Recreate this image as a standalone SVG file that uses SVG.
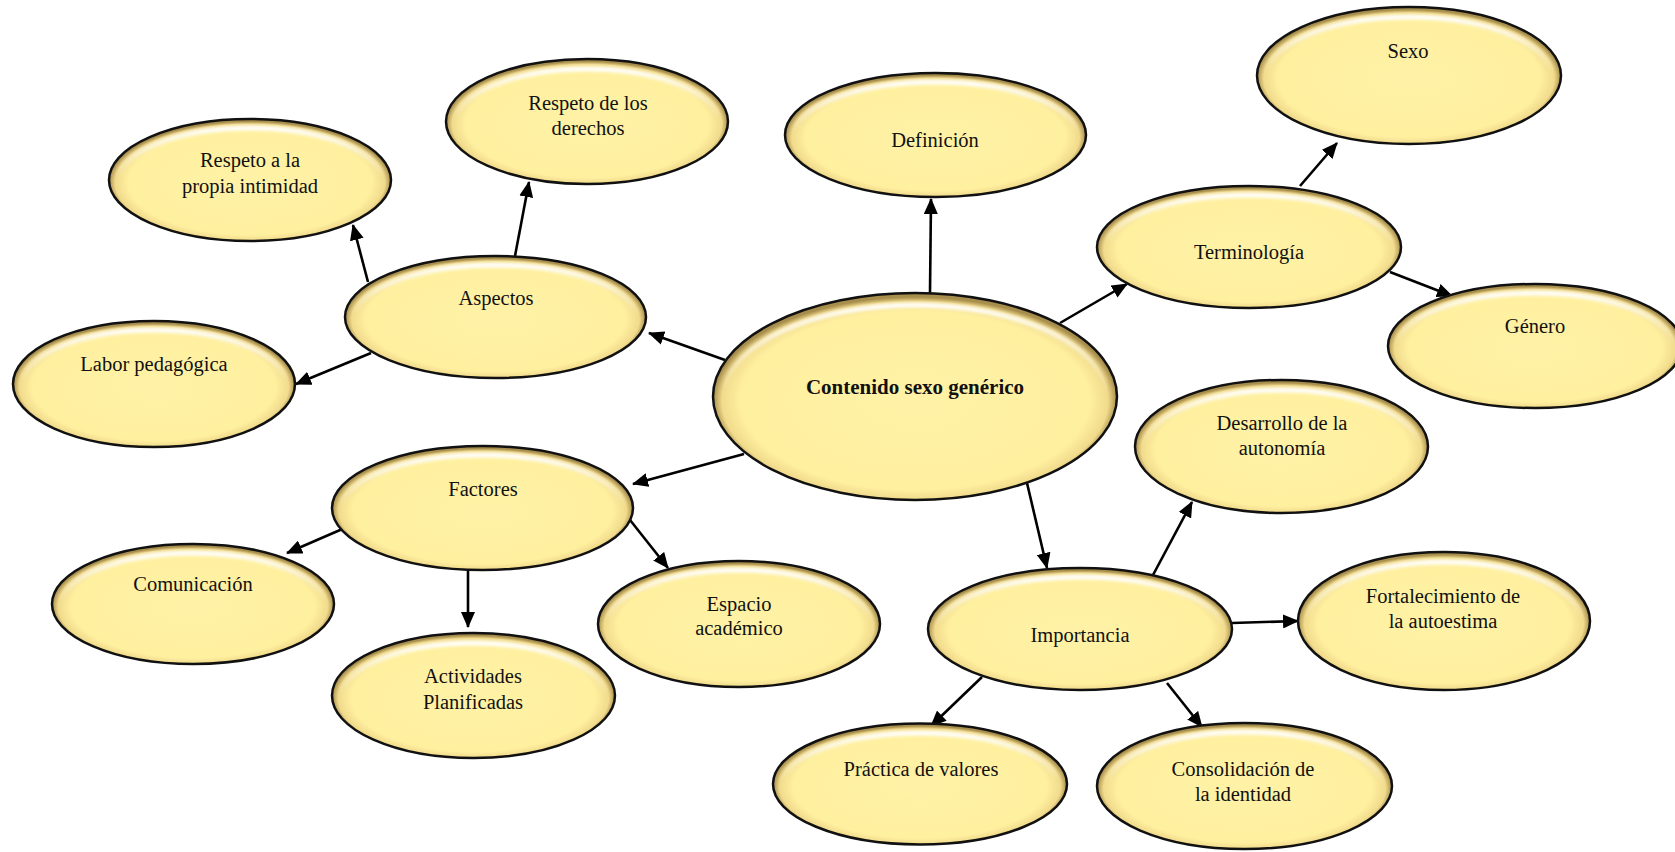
<svg xmlns="http://www.w3.org/2000/svg" width="1675" height="852" viewBox="0 0 1675 852">
<defs>
<radialGradient id="fill" cx="0.5" cy="0.52" r="0.5">
<stop offset="0" stop-color="#FFF2A6"/>
<stop offset="0.86" stop-color="#FFF0A0"/>
<stop offset="0.955" stop-color="#F1DB8C"/>
<stop offset="1" stop-color="#A88E4C"/>
</radialGradient>
<linearGradient id="hl" x1="0" y1="0" x2="0" y2="1">
<stop offset="0" stop-color="#FFFFFF" stop-opacity="0.95"/>
<stop offset="0.25" stop-color="#FFFFFF" stop-opacity="0.45"/>
<stop offset="0.45" stop-color="#FFFFFF" stop-opacity="0"/>
</linearGradient>
<filter id="blur" x="-10%" y="-10%" width="120%" height="120%"><feGaussianBlur stdDeviation="1.4"/></filter>
<marker id="arr" markerUnits="userSpaceOnUse" markerWidth="16" markerHeight="14" refX="15" refY="7" orient="auto">
<path d="M0,0 L16,7 L0,14 Z" fill="#000"/>
</marker>
<style>
.n{fill:url(#fill);stroke:#111;stroke-width:2.5}
.h{fill:none;stroke:url(#hl);stroke-width:5;filter:url(#blur)}
.t{font-family:"Liberation Serif","Times New Roman",serif;font-size:20.5px;fill:#111;text-anchor:middle}
.b{font-weight:bold;font-size:21px}
.c line{stroke:#000;stroke-width:2.6;marker-end:url(#arr)}
</style>
</defs>
<rect width="1675" height="852" fill="#fff"/>
<g id="connectors" class="c">
<line x1="930" y1="293" x2="931" y2="199"/>
<line x1="1060" y1="323" x2="1127" y2="284"/>
<line x1="1300" y1="186" x2="1337" y2="143"/>
<line x1="1390" y1="272" x2="1452" y2="296"/>
<line x1="725" y1="360" x2="649" y2="333"/>
<line x1="368" y1="282" x2="353" y2="225"/>
<line x1="515" y1="256" x2="529" y2="182"/>
<line x1="371" y1="353" x2="296" y2="384"/>
<line x1="744" y1="454" x2="633" y2="484"/>
<line x1="347" y1="527" x2="287" y2="553"/>
<line x1="468" y1="570" x2="468" y2="627"/>
<line x1="630" y1="520" x2="668" y2="568"/>
<line x1="1027" y1="483" x2="1047" y2="568"/>
<line x1="1153" y1="575" x2="1192" y2="502"/>
<line x1="1232" y1="623" x2="1298" y2="621"/>
<line x1="982" y1="677" x2="931" y2="726"/>
<line x1="1167" y1="683" x2="1202" y2="727"/>
</g>
<g id="n-contenido"><ellipse class="n" cx="915" cy="396.5" rx="202" ry="103.5"/><ellipse class="h" cx="915" cy="400" rx="193" ry="95"/><text class="t b" x="915" y="394">Contenido sexo genérico</text></g>
<g id="n-definicion"><ellipse class="n" cx="935.5" cy="135" rx="150.5" ry="62"/><ellipse class="h" cx="935.5" cy="138" rx="143" ry="56"/><text class="t" x="935" y="147">Definición</text></g>
<g id="n-sexo"><ellipse class="n" cx="1409" cy="75.5" rx="152" ry="68.5"/><ellipse class="h" cx="1409" cy="79" rx="144" ry="62"/><text class="t" x="1408" y="58">Sexo</text></g>
<g id="n-terminologia"><ellipse class="n" cx="1249" cy="247" rx="152" ry="61"/><ellipse class="h" cx="1249" cy="250" rx="144" ry="55"/><text class="t" x="1249" y="259">Terminología</text></g>
<g id="n-genero"><ellipse class="n" cx="1535" cy="346" rx="147" ry="62"/><ellipse class="h" cx="1535" cy="349" rx="139" ry="56"/><text class="t" x="1535" y="333">Género</text></g>
<g id="n-derechos"><ellipse class="n" cx="587" cy="121.5" rx="141" ry="62.5"/><ellipse class="h" cx="587" cy="125" rx="133" ry="56"/><text class="t" x="588" y="110">Respeto de los</text><text class="t" x="588" y="135">derechos</text></g>
<g id="n-intimidad"><ellipse class="n" cx="250" cy="180" rx="141" ry="61"/><ellipse class="h" cx="250" cy="183" rx="133" ry="55"/><text class="t" x="250" y="167">Respeto a la</text><text class="t" x="250" y="193">propia intimidad</text></g>
<g id="n-aspectos"><ellipse class="n" cx="495.5" cy="317" rx="150.5" ry="61"/><ellipse class="h" cx="495.5" cy="320" rx="142" ry="55"/><text class="t" x="496" y="305">Aspectos</text></g>
<g id="n-labor"><ellipse class="n" cx="154" cy="384" rx="141" ry="63"/><ellipse class="h" cx="154" cy="387" rx="133" ry="57"/><text class="t" x="154" y="371">Labor pedagógica</text></g>
<g id="n-factores"><ellipse class="n" cx="482.5" cy="508" rx="150.5" ry="62"/><ellipse class="h" cx="482.5" cy="511" rx="142" ry="56"/><text class="t" x="483" y="496">Factores</text></g>
<g id="n-comunicacion"><ellipse class="n" cx="193" cy="604" rx="141" ry="60"/><ellipse class="h" cx="193" cy="607" rx="133" ry="54"/><text class="t" x="193" y="591">Comunicación</text></g>
<g id="n-actividades"><ellipse class="n" cx="473.5" cy="695.5" rx="141.5" ry="62.5"/><ellipse class="h" cx="473.5" cy="699" rx="133" ry="56"/><text class="t" x="473" y="683">Actividades</text><text class="t" x="473" y="709">Planificadas</text></g>
<g id="n-espacio"><ellipse class="n" cx="739" cy="624" rx="141" ry="63"/><ellipse class="h" cx="739" cy="627" rx="133" ry="57"/><text class="t" x="739" y="611">Espacio</text><text class="t" x="739" y="635">académico</text></g>
<g id="n-importancia"><ellipse class="n" cx="1080" cy="629" rx="152" ry="61"/><ellipse class="h" cx="1080" cy="632" rx="144" ry="55"/><text class="t" x="1080" y="642">Importancia</text></g>
<g id="n-desarrollo"><ellipse class="n" cx="1281.5" cy="446.5" rx="146.5" ry="66.5"/><ellipse class="h" cx="1281.5" cy="450" rx="138" ry="60"/><text class="t" x="1282" y="430">Desarrollo de la</text><text class="t" x="1282" y="455">autonomía</text></g>
<g id="n-fortalecimiento"><ellipse class="n" cx="1444" cy="621" rx="146" ry="69"/><ellipse class="h" cx="1444" cy="624" rx="138" ry="62"/><text class="t" x="1443" y="603">Fortalecimiento de</text><text class="t" x="1443" y="628">la autoestima</text></g>
<g id="n-practica"><ellipse class="n" cx="920" cy="784" rx="147" ry="60.5"/><ellipse class="h" cx="920" cy="787" rx="139" ry="54"/><text class="t" x="921" y="776">Práctica de valores</text></g>
<g id="n-consolidacion"><ellipse class="n" cx="1244.5" cy="786" rx="147.5" ry="63"/><ellipse class="h" cx="1244.5" cy="789" rx="139" ry="57"/><text class="t" x="1243" y="776">Consolidación de</text><text class="t" x="1243" y="801">la identidad</text></g>
</svg>
